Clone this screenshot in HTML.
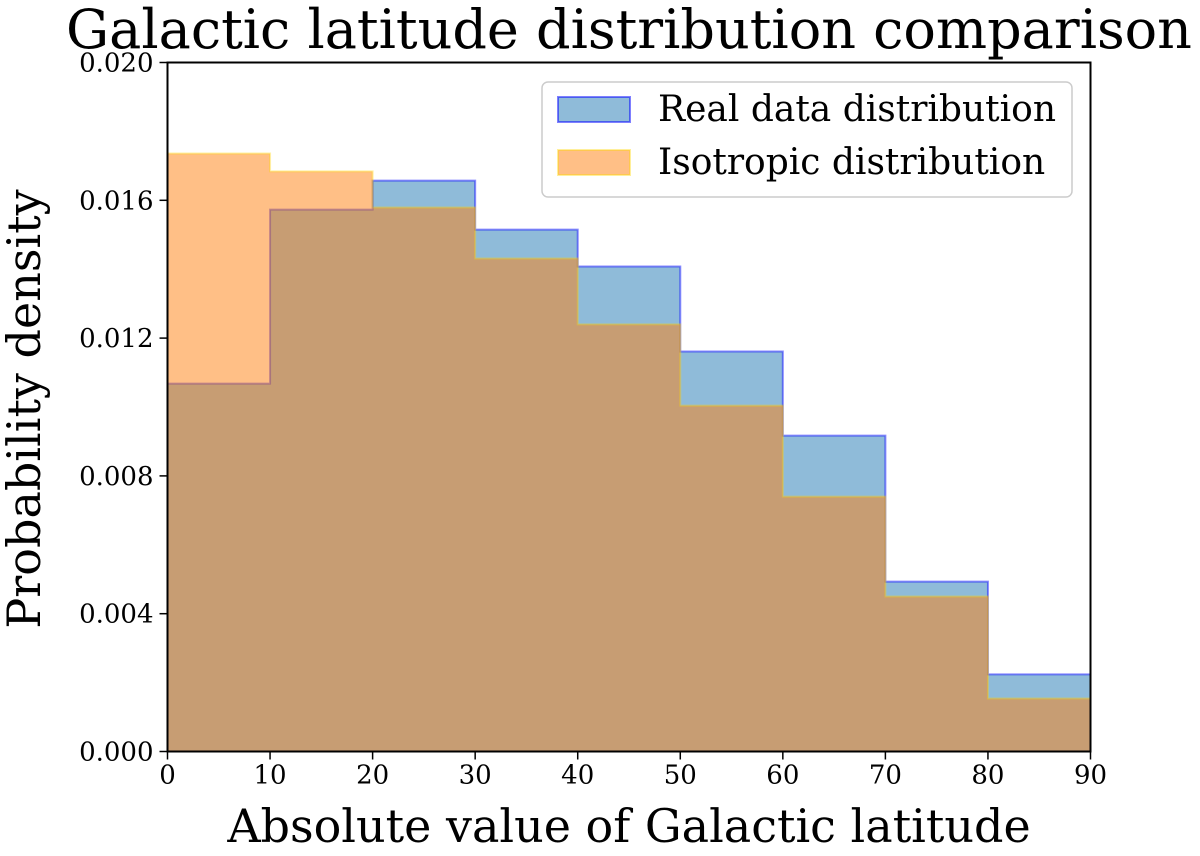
<!DOCTYPE html>
<html><head><meta charset="utf-8"><style>
html,body{margin:0;padding:0;background:#fff}
svg text{font-family:"DejaVu Serif","Liberation Serif",serif;fill:#000}
</style></head><body>
<svg id="chart" width="1200" height="851" viewBox="0 0 1200 851" xmlns="http://www.w3.org/2000/svg">
<text x="629" y="48" font-size="54" text-anchor="middle">Galactic latitude distribution comparison</text>
<g id="bars"></g>
<rect x="167.5" y="62.5" width="923" height="689" fill="none" stroke="#000" stroke-width="2"/>
<g id="axes"></g>
<text x="629" y="842" font-size="46" text-anchor="middle">Absolute value of Galactic latitude</text>
<text transform="translate(40,409) rotate(-90)" font-size="46" text-anchor="middle">Probability density</text>
<g>
<rect x="542" y="82" width="530" height="115" rx="6" fill="#fff" fill-opacity="0.8" stroke="#ccc" stroke-width="1.5"/>
<rect x="558" y="97" width="72" height="25" fill="rgba(31,119,180,0.5)" stroke="rgba(0,0,255,0.5)" stroke-width="2"/>
<text x="658" y="121" font-size="36">Real data distribution</text>
<rect x="558" y="150" width="72" height="25" fill="rgba(255,127,14,0.5)" stroke="rgba(255,215,0,0.4)" stroke-width="2"/>
<text x="658" y="174" font-size="36">Isotropic distribution</text>
</g>
</svg>
<script>
const binEdges=[0,10,20,30,40,50,60,70,80,90];
const realData=[0.01068,0.01573,0.01657,0.01515,0.01408,0.01161,0.00917,0.00493,0.00224];
const isotropicData=[0.01736,0.01684,0.01579,0.01431,0.0124,0.01004,0.0074,0.0045,0.00154];
const xTicks=[0,10,20,30,40,50,60,70,80,90];
const yTicks=[0,0.004,0.008,0.012,0.016,0.020];
const yTickLabels=["0.000","0.004","0.008","0.012","0.016","0.020"];
const X0=167.5,X1=1090.5,Y0=751.5,Y1=62.5;
const xs=v=>X0+(v-0)/(90-0)*(X1-X0);
const ys=v=>Y0-(v/0.02)*(Y0-Y1);
const NS="http://www.w3.org/2000/svg";
const bars=document.getElementById('bars');
function step(data,fill,stroke,name){
  let d=`M${xs(binEdges[0])},${ys(0)}`;
  data.forEach((v,i)=>{d+=` L${xs(binEdges[i])},${ys(v)} L${xs(binEdges[i+1])},${ys(v)}`;});
  d+=` L${xs(binEdges[data.length])},${ys(0)} Z`;
  const p=document.createElementNS(NS,'path');
  p.setAttribute('d',d);p.setAttribute('fill',fill);p.setAttribute('stroke',stroke);p.setAttribute('stroke-width','2');
  
  
  bars.appendChild(p);
}
step(realData,'rgba(31,119,180,0.5)','rgba(0,0,255,0.45)','real-data-histogram');
step(isotropicData,'rgba(255,127,14,0.5)','rgba(255,215,0,0.35)','isotropic-histogram');
const axes=document.getElementById('axes');
xTicks.forEach(t=>{
  const l=document.createElementNS(NS,'line');
  l.setAttribute('x1',xs(t));l.setAttribute('x2',xs(t));l.setAttribute('y1',Y0);l.setAttribute('y2',Y0+8);l.setAttribute('stroke','#000');l.setAttribute('stroke-width','1.5');
  
  
  axes.appendChild(l);
  const tx=document.createElementNS(NS,'text');
  tx.setAttribute('x',xs(t));tx.setAttribute('y',Y0+32);tx.setAttribute('font-size','26');tx.setAttribute('text-anchor','middle');
  tx.textContent=t;
  
  
  axes.appendChild(tx);
});
yTicks.forEach((t,i)=>{
  const l=document.createElementNS(NS,'line');
  l.setAttribute('x1',X0-8);l.setAttribute('x2',X0);l.setAttribute('y1',ys(t));l.setAttribute('y2',ys(t));l.setAttribute('stroke','#000');l.setAttribute('stroke-width','1.5');
  
  
  axes.appendChild(l);
  const tx=document.createElementNS(NS,'text');
  tx.setAttribute('x',X0-14);tx.setAttribute('y',ys(t)+9);tx.setAttribute('font-size','26');tx.setAttribute('text-anchor','end');
  tx.textContent=yTickLabels[i];
  
  
  axes.appendChild(tx);
});
</script>
</body></html>
